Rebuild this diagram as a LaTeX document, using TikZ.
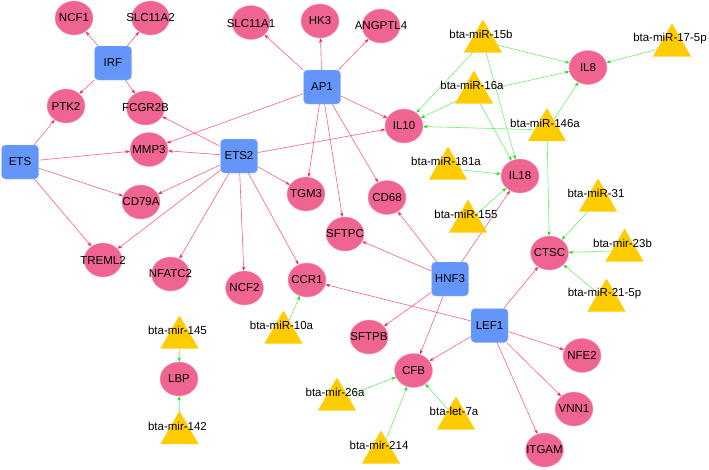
\documentclass[tikz,border=0pt]{standalone}
\usepackage{fontspec}
\setmainfont{Liberation Sans}
\usetikzlibrary{shapes.geometric,arrows.meta}
\definecolor{genepink}{RGB}{240,100,146}
\definecolor{tfblue}{RGB}{100,150,250}
\definecolor{mirgold}{RGB}{255,204,0}
\definecolor{redline}{RGB}{250,95,135}
\definecolor{redhead}{RGB}{245,30,80}
\definecolor{greenline}{RGB}{110,240,110}
\definecolor{greenhead}{RGB}{20,220,20}
\pgfdeclarelayer{bg}
\pgfsetlayers{bg,main}
\tikzset{
  gene/.style={ellipse, fill=genepink, draw=genepink!60!white, line width=0.4pt, minimum width=38pt, minimum height=34pt, inner sep=0pt},
  tfbox/.style={rectangle, rounded corners=4pt, fill=tfblue, draw=tfblue!60!white, line width=0.4pt, minimum width=37pt, minimum height=34pt, inner sep=0pt},
  mir/.style={regular polygon, regular polygon sides=3, fill=mirgold, minimum size=44pt, inner sep=0pt},
  redarr/.style={draw=redline, line width=0.6pt, -{Stealth[length=4.5pt,width=3.2pt,color=redhead]}},
  greenarr/.style={draw=greenline, line width=0.6pt, -{Stealth[length=4.5pt,width=3.2pt,color=greenhead]}},
  every label/.style={font=\fontsize{11.5}{13}\selectfont, text=black, inner sep=0pt},
  tlab/.style={label={[xshift=-2pt,yshift=7pt]center:#1}}
}
\begin{document}
\begin{tikzpicture}[x=1pt,y=-1pt]
\useasboundingbox (0,0) rectangle (709,469);
% transcription factors
\node[tfbox, label=center:IRF] (IRF) at (113,63) {};
\node[tfbox, label=center:ETS] (ETS) at (20,162) {};
\node[tfbox, label=center:ETS2] (ETS2) at (239,156) {};
\node[tfbox, label=center:AP1] (AP1) at (322,87) {};
\node[tfbox, label=center:HNF3] (HNF3) at (450,279) {};
\node[tfbox, label=center:LEF1] (LEF1) at (489.5,325.5) {};
% genes
\node[gene, label=center:NCF1] (NCF1) at (74,18) {};
\node[gene, label=center:SLC11A2] (SLC11A2) at (150.5,18) {};
\node[gene, label={[yshift=-1.5pt]center:SLC11A1}] (SLC11A1) at (251,22.5) {};
\node[gene, label=center:HK3] (HK3) at (320,21) {};
\node[gene, label=center:ANGPTL4] (ANGPTL4) at (381,26) {};
\node[gene, label=center:PTK2] (PTK2) at (66,106) {};
\node[gene, label=center:FCGR2B] (FCGR2B) at (145.5,108) {};
\node[gene, label=center:MMP3] (MMP3) at (149,149.5) {};
\node[gene, label=center:CD79A] (CD79A) at (141,202) {};
\node[gene, label=center:TGM3] (TGM3) at (306,194) {};
\node[gene, label=center:IL10] (IL10) at (404,126) {};
\node[gene, label=center:IL8] (IL8) at (588,67.5) {};
\node[gene, label=center:IL18] (IL18) at (520,176) {};
\node[gene, label=center:CD68] (CD68) at (387,197.5) {};
\node[gene, label=center:SFTPC] (SFTPC) at (345,234) {};
\node[gene, label=center:CTSC] (CTSC) at (549.5,253) {};
\node[gene, label=center:TREML2] (TREML2) at (103,260) {};
\node[gene, label=center:NFATC2] (NFATC2) at (170.5,274) {};
\node[gene, label=center:NCF2] (NCF2) at (244.5,288) {};
\node[gene, label=center:CCR1] (CCR1) at (307,280) {};
\node[gene, label=center:SFTPB] (SFTPB) at (369,337) {};
\node[gene, label=center:CFB] (CFB) at (413.5,370.5) {};
\node[gene, label=center:NFE2] (NFE2) at (582,355.5) {};
\node[gene, label=center:VNN1] (VNN1) at (574,409) {};
\node[gene, label=center:ITGAM] (ITGAM) at (544.5,450) {};
\node[gene, label=center:LBP] (LBP) at (179,379) {};
% miRNAs (triangle centre = bbox centre + 5.5)
\node[mir, tlab=bta-miR-15b] (m15b) at (483,41.5) {};
\node[mir, tlab=bta-miR-17-5p] (m175p) at (672,45.5) {};
\node[mir, tlab=bta-miR-16a] (m16a) at (474,92.5) {};
\node[mir, tlab=bta-miR-146a] (m146a) at (547,130) {};
\node[mir, tlab=bta-miR-181a] (m181a) at (448,168.5) {};
\node[mir, tlab=bta-miR-155] (m155) at (468,221.5) {};
\node[mir, tlab=bta-miR-31] (m31) at (598,200.5) {};
\node[mir, tlab=bta-mir-23b] (m23b) at (624.5,250.5) {};
\node[mir, tlab=bta-miR-21-5p] (m215p) at (606.5,300.5) {};
\node[mir, tlab=bta-mir-145] (m145) at (179.5,337.5) {};
\node[mir, tlab=bta-mir-142] (m142) at (179.5,433) {};
\node[mir, tlab=bta-miR-10a] (m10a) at (283.5,332.5) {};
\node[mir, tlab=bta-mir-26a] (m26a) at (337,399.5) {};
\node[mir, tlab=bta-let-7a] (let7a) at (456,418.5) {};
\node[mir, tlab=bta-mir-214] (m214) at (381,452.5) {};
\begin{pgfonlayer}{bg}
% TF -> gene
\foreach \t in {NCF1,SLC11A2,PTK2,FCGR2B} \draw[redarr] (IRF) -- (\t);
\foreach \t in {PTK2,MMP3,CD79A,TREML2} \draw[redarr] (ETS) -- (\t);
\foreach \t in {SLC11A1,HK3,ANGPTL4,MMP3,IL10,TGM3,SFTPC,CD68} \draw[redarr] (AP1) -- (\t);
\foreach \t in {FCGR2B,MMP3,IL10,TGM3,CD79A,TREML2,NFATC2,NCF2,CCR1} \draw[redarr] (ETS2) -- (\t);
\foreach \t in {SFTPC,CD68,IL18,SFTPB,CFB} \draw[redarr] (HNF3) -- (\t);
\foreach \t in {CCR1,CTSC,CFB,NFE2,VNN1,ITGAM} \draw[redarr] (LEF1) -- (\t);
% miRNA -> gene
\foreach \t in {IL10,IL8,IL18} \draw[greenarr] (m15b) -- (\t);
\draw[greenarr] (m175p) -- (IL8);
\foreach \t in {IL8,IL10,IL18} \draw[greenarr] (m16a) -- (\t);
\foreach \t in {IL10,IL8,CTSC} \draw[greenarr] (m146a) -- (\t);
\draw[greenarr] (m181a) -- (IL18);
\draw[greenarr] (m155) -- (IL18);
\draw[greenarr] (m31) -- (CTSC);
\draw[greenarr] (m23b) -- (CTSC);
\draw[greenarr] (m215p) -- (CTSC);
\draw[greenarr] (m145) -- (LBP);
\draw[greenarr] (m142) -- (LBP);
\draw[greenarr] (m10a) -- (CCR1);
\draw[greenarr] (m26a) -- (CFB);
\draw[greenarr] (let7a) -- (CFB);
\draw[greenarr] (m214) -- (CFB);
\end{pgfonlayer}
\end{tikzpicture}
\end{document}
